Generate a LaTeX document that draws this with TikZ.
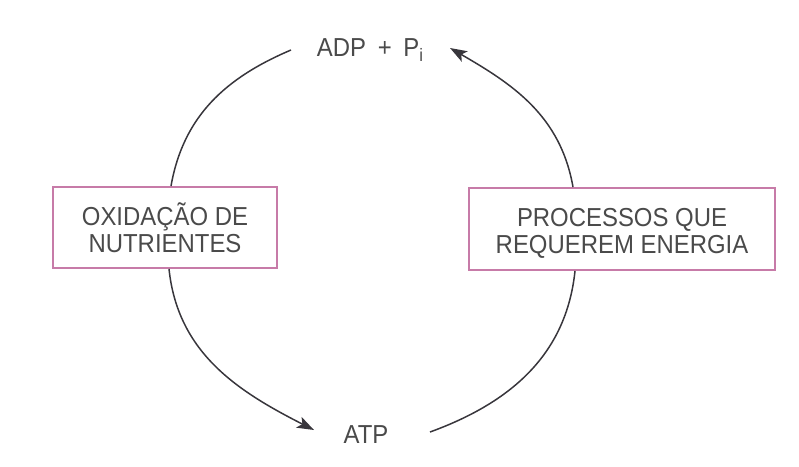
\documentclass[tikz,border=0pt]{standalone}
\usepackage{fontspec}
\setmainfont[FakeStretch=0.92]{Liberation Sans}
\usetikzlibrary{arrows.meta}
\definecolor{txt}{HTML}{4A4A4A}
\definecolor{boxc}{HTML}{C77BA8}
\definecolor{arcc}{HTML}{38363C}
\newcommand{\topstrut}{\rule{0pt}{26.5pt}}
\begin{document}
\begin{tikzpicture}[x=1pt,y=-1pt,
  lbl/.style={text=txt,font=\fontsize{26}{27}\selectfont,inner sep=2pt},
  pbox/.style={lbl,draw=boxc,line width=1.9pt,align=center,inner sep=0pt},
  cyc/.style={draw=arcc,line width=1.5pt},
  tip/.style={-{Stealth[length=17pt,width=12pt,inset=4pt]}}]
\useasboundingbox (0,0) rectangle (799,466);
\node[pbox,font=\fontsize{26}{26.5}\selectfont,minimum width=224pt,minimum height=81pt] (L) at (165,227.5) {OXIDAÇÃO DE\\NUTRIENTES};
\node[pbox,minimum width=306pt,minimum height=82pt] (R) at (622,229) {\topstrut PROCESSOS QUE\\REQUEREM ENERGIA};
\node[lbl,anchor=base] (adp) at (370,56.5) {ADP\hspace{0.45em}+\hspace{0.45em}P\raisebox{-5pt}{\fontsize{18}{18}\selectfont i}};
\node[lbl,anchor=base] (atp) at (366,443) {ATP};
\coordinate (adpL) at (291,50);
\coordinate (adpR) at (450,48);
\coordinate (atpL) at (314,430);
\coordinate (atpR) at (430,432);
\draw[cyc] (L.north -| 171,0) to[out=80,in=203] (adpL);
\draw[cyc,tip] (R.north -| 573,0) to[out=100,in=-30] (adpR);
\draw[cyc,tip] (L.south -| 169,0) to[out=-84,in=153] (atpL);
\draw[cyc] (atpR) to[out=20,in=-96] (R.south -| 575,0);
\end{tikzpicture}
\end{document}
